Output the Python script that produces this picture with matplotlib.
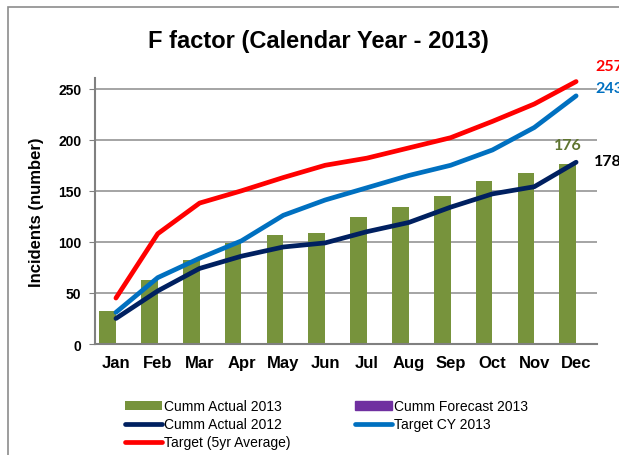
import numpy as np
import matplotlib
matplotlib.use('Agg')
from matplotlib import pyplot as plt
from matplotlib.patches import Rectangle

plt.rcParams['font.family'] = ['Liberation Sans', 'DejaVu Sans']

months = ['Jan', 'Feb', 'Mar', 'Apr', 'May', 'Jun', 'Jul', 'Aug', 'Sep', 'Oct', 'Nov', 'Dec']
actual_2013 = [32, 63, 82, 99, 107, 109, 124, 134, 145, 160, 167, 176]
forecast_2013 = [np.nan] * 12  # no forecast bars shown
actual_2012 = [25, 52, 74, 86, 95, 99, 110, 119, 134, 147, 154, 178]
target_cy = [31, 65, 84, 101, 126, 141, 153, 165, 175, 190, 212, 243]
target_5yr = [45, 108, 138, 150, 163, 175, 182, 192, 202, 218, 235, 257]

c_olive = '#77933C'
c_purple = '#7030A0'
c_navy = '#002060'
c_blue = '#0070C0'
c_red = '#FF0000'

fig = plt.figure(figsize=(6.19, 4.56), dpi=100)
ax = fig.add_axes([0.1535, 0.2434, 0.811, 0.5823])

# outer chart frame (right/bottom edges fall outside the image)
fig.patches.append(Rectangle((8 / 619, -0.1), 1.2, 1 - 8 / 456 + 0.1, transform=fig.transFigure,
                             fill=False, edgecolor='#8c8c8c', linewidth=1.2))

x = np.arange(len(months))
b1 = ax.bar(x - 0.2, actual_2013, width=0.4, color=c_olive, zorder=2)
b2 = ax.bar(x + 0.2, forecast_2013, width=0.4, color=c_purple, zorder=2)

lw = 3.4
l1, = ax.plot(x, actual_2012, color=c_navy, lw=lw, solid_capstyle='round', solid_joinstyle='round', zorder=3)
l2, = ax.plot(x, target_cy, color=c_blue, lw=lw, solid_capstyle='round', solid_joinstyle='round', zorder=3)
l3, = ax.plot(x, target_5yr, color=c_red, lw=lw, solid_capstyle='round', solid_joinstyle='round', zorder=3)

ax.set_xlim(-0.5, 11.5)
ax.set_ylim(0, 260)
ax.set_yticks([0, 50, 100, 150, 200, 250])
ax.set_xticks(x)
ax.set_xticklabels(months, fontsize=12, fontweight='bold')
for lab in ax.get_yticklabels():
    lab.set_fontweight('bold')
    lab.set_fontsize(10)
ax.tick_params(axis='x', length=0, pad=8)
ax.tick_params(axis='y', length=4, color='#808080', pad=6)
ax.grid(axis='y', color='#8c8c8c', linewidth=1.1, zorder=0)
ax.set_axisbelow(True)
for s in ['top', 'right']:
    ax.spines[s].set_visible(False)
for s in ['left', 'bottom']:
    ax.spines[s].set_color('#808080')
    ax.spines[s].set_linewidth(1.5)

ax.set_ylabel('Incidents (number)', fontsize=12, fontweight='bold', labelpad=10)
fig.text(0.514, 0.91, 'F factor (Calendar Year - 2013)', ha='center', va='center',
         fontsize=17, fontweight='bold')

# end-of-series value labels
lab_font = ['Lato', 'DejaVu Sans']
ax.annotate(str(target_5yr[-1]), (x[-1], target_5yr[-1]), xytext=(14, 11), textcoords='offset points',
            color=c_red, fontsize=11.5, fontweight='bold', family=lab_font, va='center', annotation_clip=False)
ax.annotate(str(target_cy[-1]), (x[-1], target_cy[-1]), xytext=(14, 6), textcoords='offset points',
            color=c_blue, fontsize=11.5, fontweight='bold', family=lab_font, va='center', annotation_clip=False)
ax.annotate(str(actual_2013[-1]), (x[-1] - 0.2, actual_2013[-1]), xytext=(0, 14), textcoords='offset points',
            color='#5f7530', fontsize=11.5, fontweight='bold', family=lab_font, ha='center', va='center',
            annotation_clip=False)
ax.annotate(str(actual_2012[-1]), (x[-1], actual_2012[-1]), xytext=(13, 1), textcoords='offset points',
            color='black', fontsize=11.5, fontweight='bold', family=lab_font, va='center', annotation_clip=False)

leg = fig.legend([b1, l1, l3, b2, l2],
                 ['Cumm Actual 2013', 'Cumm Actual 2012', 'Target (5yr Average)',
                  'Cumm Forecast 2013', 'Target CY 2013'],
                 ncol=2, loc='upper left', bbox_to_anchor=(0.19, 0.138), frameon=False,
                 fontsize=10, handlelength=2.7, handleheight=0.6, handletextpad=0.15,
                 columnspacing=4.6, labelspacing=0.3, borderpad=0)
leg.legend_handles[3].set_color(c_purple)

fig.savefig('out.png', dpi=100)
